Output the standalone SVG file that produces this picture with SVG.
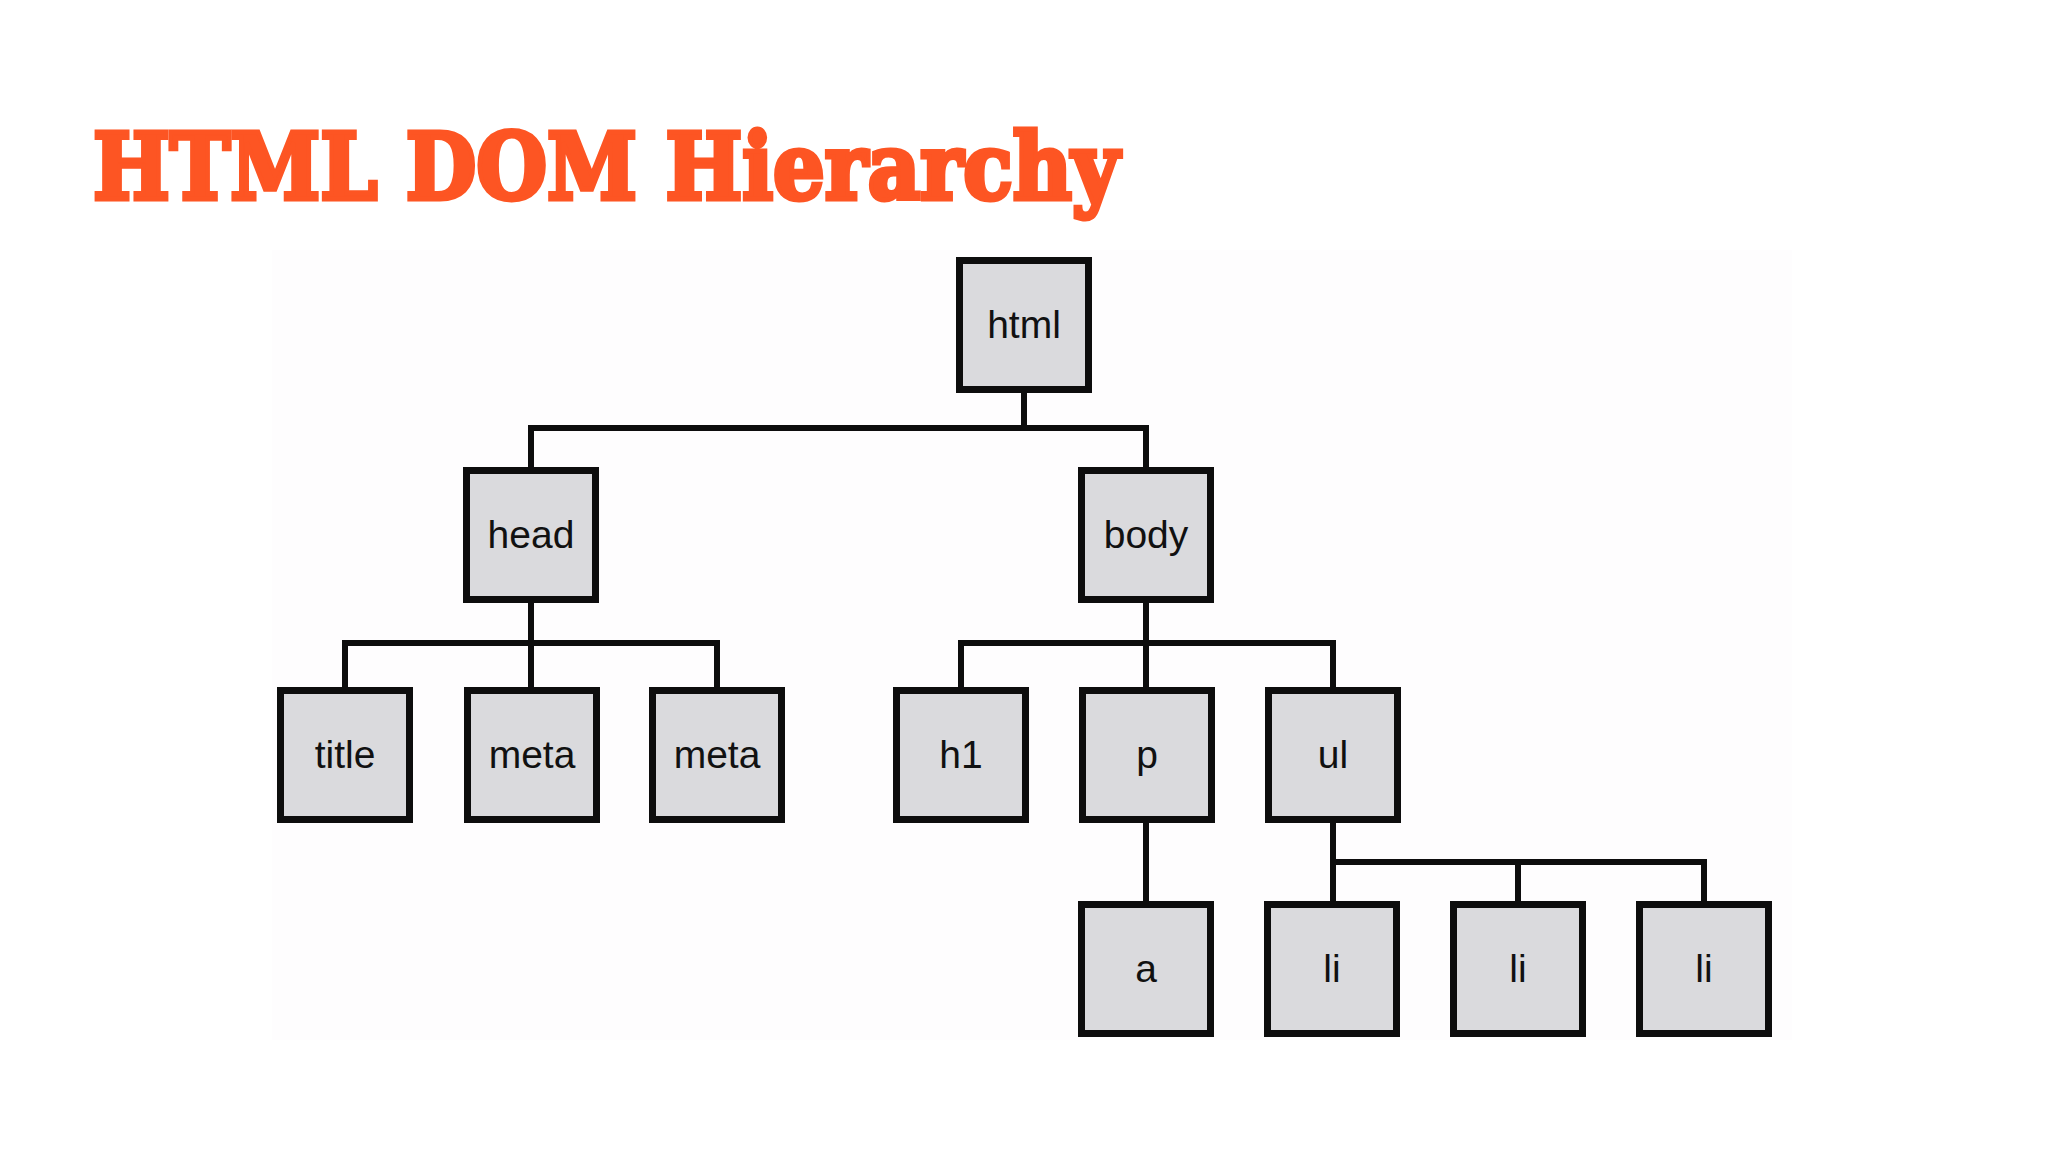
<svg xmlns="http://www.w3.org/2000/svg" width="2048" height="1152" viewBox="0 0 2048 1152">
  <style>
    .box { fill: #dadadd; stroke: #0d0d0d; stroke-width: 7; }
    .lbl { font-family: "Liberation Sans", Arial, sans-serif; font-size: 39px; fill: #111111; text-anchor: middle; }
    .edge { fill: none; stroke: #0d0d0d; stroke-width: 6; stroke-linejoin: miter; stroke-linecap: square; }
    .title { font-family: "DejaVu Serif", "Liberation Serif", serif; font-weight: 900; font-size: 92px; fill: #fd5523; stroke: #fd5523; stroke-width: 5; stroke-linejoin: miter; }
  </style>
  <rect x="0" y="0" width="2048" height="1152" fill="#ffffff"/>
  <rect x="272" y="250" width="1520" height="790" fill="#fefdfe"/>

  <text class="title" x="93" y="199" textLength="1026" lengthAdjust="spacingAndGlyphs">HTML DOM Hierarchy</text>

  <g id="connectors">
    <path class="edge" d="M1024,393 V428 M531,467 V428 H1146 V467"/>
    <path class="edge" d="M531,603 V687 M345,687 V643 H717 V687"/>
    <path class="edge" d="M1146,603 V687 M961,687 V643 H1333 V687"/>
    <path class="edge" d="M1146,823 V901"/>
    <path class="edge" d="M1333,823 V901 M1333,862 H1704 V901 M1518,862 V901"/>
  </g>

  <g id="node-html"><rect class="box" x="959.5" y="260.5" width="129" height="129"/><text class="lbl" x="1024" y="338">html</text></g>
  <g id="node-head"><rect class="box" x="466.5" y="470.5" width="129" height="129"/><text class="lbl" x="531" y="548">head</text></g>
  <g id="node-body"><rect class="box" x="1081.5" y="470.5" width="129" height="129"/><text class="lbl" x="1146" y="548">body</text></g>
  <g id="node-title"><rect class="box" x="280.5" y="690.5" width="129" height="129"/><text class="lbl" x="345" y="768">title</text></g>
  <g id="node-meta1"><rect class="box" x="467.5" y="690.5" width="129" height="129"/><text class="lbl" x="532" y="768">meta</text></g>
  <g id="node-meta2"><rect class="box" x="652.5" y="690.5" width="129" height="129"/><text class="lbl" x="717" y="768">meta</text></g>
  <g id="node-h1"><rect class="box" x="896.5" y="690.5" width="129" height="129"/><text class="lbl" x="961" y="768">h1</text></g>
  <g id="node-p"><rect class="box" x="1082.5" y="690.5" width="129" height="129"/><text class="lbl" x="1147" y="768">p</text></g>
  <g id="node-ul"><rect class="box" x="1268.5" y="690.5" width="129" height="129"/><text class="lbl" x="1333" y="768">ul</text></g>
  <g id="node-a"><rect class="box" x="1081.5" y="904.5" width="129" height="129"/><text class="lbl" x="1146" y="982">a</text></g>
  <g id="node-li1"><rect class="box" x="1267.5" y="904.5" width="129" height="129"/><text class="lbl" x="1332" y="982">li</text></g>
  <g id="node-li2"><rect class="box" x="1453.5" y="904.5" width="129" height="129"/><text class="lbl" x="1518" y="982">li</text></g>
  <g id="node-li3"><rect class="box" x="1639.5" y="904.5" width="129" height="129"/><text class="lbl" x="1704" y="982">li</text></g>
</svg>
